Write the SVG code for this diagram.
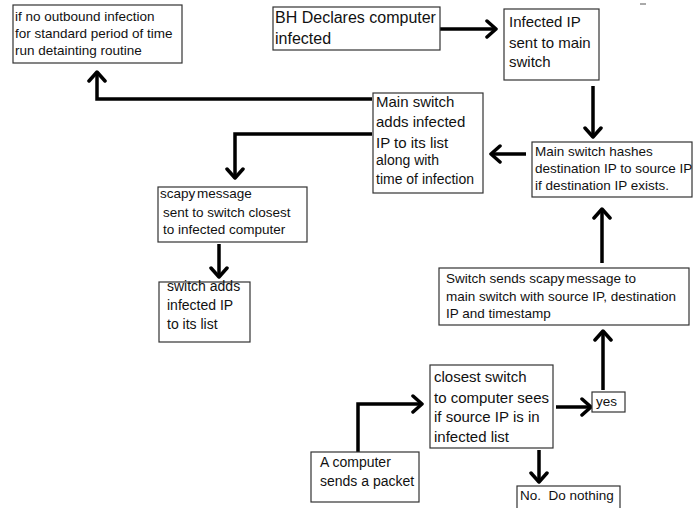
<svg xmlns="http://www.w3.org/2000/svg" width="693" height="508" viewBox="0 0 693 508">
<style>
.box{fill:#fff;stroke:#333;stroke-width:1.2}
text{font-family:"Liberation Sans",Arial,sans-serif;fill:#111}
.s13{font-size:13.5px}
.s14{font-size:14px}
.s15{font-size:15px}
.s16{font-size:16px}
.con{fill:none;stroke:#000;stroke-width:3.5;stroke-linejoin:miter}
</style>
<defs>
<marker id="arr" viewBox="0 0 13 20" refX="11" refY="10" markerWidth="13" markerHeight="20" markerUnits="userSpaceOnUse" orient="auto">
<path d="M2,2 L11,10 L2,18" fill="none" stroke="#000" stroke-width="3.5" stroke-linecap="round" stroke-linejoin="round"/>
</marker>
</defs>
<rect width="693" height="508" fill="#fff"/>
<line x1="640" y1="4" x2="646" y2="4" stroke="#555" stroke-width="1"/>
<g id="connectors">
<path class="con" d="M440,29 H496" marker-end="url(#arr)"/>
<path class="con" d="M593,86 V137" marker-end="url(#arr)"/>
<path class="con" d="M526,154 H491" marker-end="url(#arr)"/>
<path class="con" d="M372,99 H97 V72" marker-end="url(#arr)"/>
<path class="con" d="M372,134 H235 V178" marker-end="url(#arr)"/>
<path class="con" d="M219,244 V277" marker-end="url(#arr)"/>
<path class="con" d="M358,452 V404 H422" marker-end="url(#arr)"/>
<path class="con" d="M556,407 H591" marker-end="url(#arr)"/>
<path class="con" d="M603,390 V331" marker-end="url(#arr)"/>
<path class="con" d="M602,263 V209" marker-end="url(#arr)"/>
<path class="con" d="M539,450 V482" marker-end="url(#arr)"/>
</g>
<g id="n-detaint">
<rect class="box" x="13" y="5" width="169" height="58"/>
<text class="s13" x="15" y="21">if no outbound infection</text>
<text class="s13" x="15" y="38">for standard period of time</text>
<text class="s13" x="15" y="55">run detainting routine</text>
</g>
<g id="n-bh">
<rect class="box" x="273" y="7" width="167" height="43"/>
<text class="s16" x="275" y="23">BH Declares computer</text>
<text class="s16" x="275" y="44">infected</text>
</g>
<g id="n-infected">
<rect class="box" x="504" y="9" width="95" height="71"/>
<text class="s15" x="509" y="27">Infected IP</text>
<text class="s15" x="509" y="48">sent to main</text>
<text class="s15" x="509" y="67">switch</text>
</g>
<g id="n-hashes">
<rect class="box" x="532" y="142" width="160" height="55"/>
<text class="s13" x="535" y="156">Main switch hashes</text>
<text class="s13" x="535" y="173">destination IP to source IP</text>
<text class="s13" x="535" y="190">if destination IP exists.</text>
</g>
<g id="n-adds">
<rect class="box" x="373" y="93" width="110" height="100"/>
<text class="s15" x="376" y="107">Main switch</text>
<text class="s15" x="376" y="127">adds infected</text>
<text class="s15" x="376" y="148">IP to its list</text>
<text class="s14" x="376" y="165">along with</text>
<text class="s14" x="376" y="184">time of infection</text>
</g>
<g id="n-scapy">
<rect class="box" x="158" y="187" width="149" height="55"/>
<text class="s13" x="160" y="198" word-spacing="-2">scapy message</text>
<text class="s13" x="163" y="217">sent to switch closest</text>
<text class="s13" x="163" y="234">to infected computer</text>
</g>
<g id="n-switchadds">
<rect class="box" x="159" y="282" width="91" height="60"/>
<text class="s14" x="167" y="291">switch adds</text>
<text class="s14" x="167" y="310">infected IP</text>
<text class="s14" x="167" y="329">to its list</text>
</g>
<g id="n-sends">
<rect class="box" x="439" y="268" width="250" height="57"/>
<text class="s13" x="446" y="283">Switch sends <tspan word-spacing="-2">scapy message</tspan> to</text>
<text class="s13" x="446" y="301">main switch with source IP, destination</text>
<text class="s13" x="446" y="318">IP and timestamp</text>
</g>
<g id="n-closest">
<rect class="box" x="430" y="365" width="123" height="83"/>
<text class="s15" x="434" y="382">closest switch</text>
<text class="s15" x="434" y="403">to computer sees</text>
<text class="s15" x="434" y="422">if source IP is in</text>
<text class="s15" x="434" y="442">infected list</text>
</g>
<g id="n-computer">
<rect class="box" x="311" y="452" width="108" height="50"/>
<text class="s14" x="320" y="467">A computer</text>
<text class="s14" x="320" y="486">sends a packet</text>
</g>
<g id="n-yes">
<rect class="box" x="592" y="392" width="33" height="20"/>
<text class="s13" x="596" y="406">yes</text>
</g>
<g id="n-no">
<rect class="box" x="517" y="486" width="103" height="40"/>
<text class="s13" x="520" y="500" xml:space="preserve">No.  Do nothing</text>
</g>
</svg>
